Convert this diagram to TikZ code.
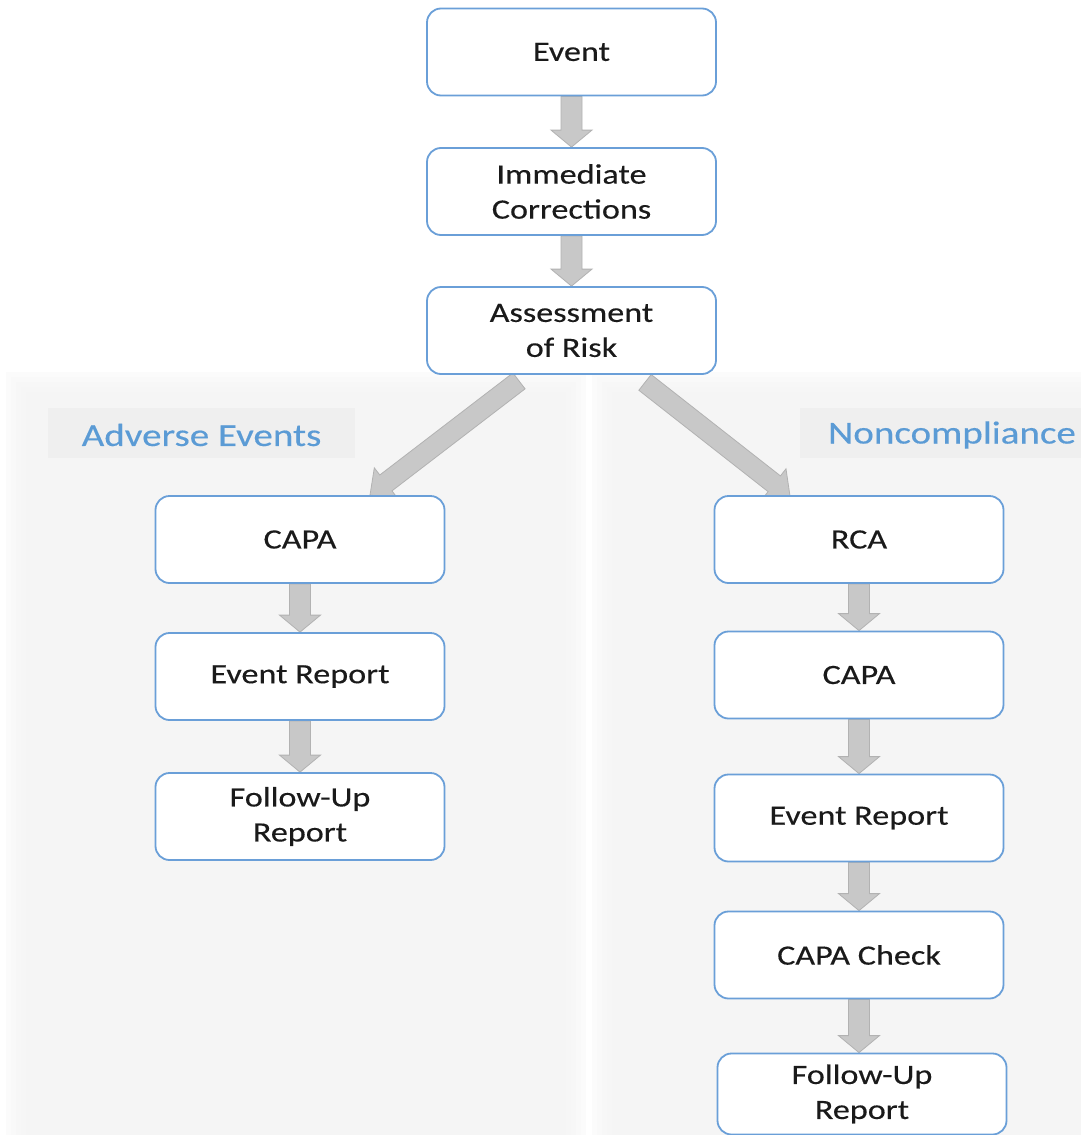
\documentclass[tikz,border=0pt]{standalone}
\usepackage{fontspec}
\setmainfont{Carlito}[FakeStretch=1.22,FakeBold=0.3]
\usetikzlibrary{calc}
\definecolor{boxblue}{HTML}{6A9FD8}
\definecolor{labblue}{HTML}{5B9BD5}
\definecolor{arrowfill}{HTML}{C8C8C8}
\definecolor{arrowedge}{HTML}{B2B2B2}
\definecolor{panelgray}{HTML}{F5F5F5}
\definecolor{labgray}{HTML}{EFEFEF}
\definecolor{txt}{HTML}{1A1A1A}
\pgfdeclarelayer{bg}
\pgfdeclarelayer{mid}
\pgfsetlayers{bg,mid,main}
\tikzset{
  box/.style={draw=boxblue, line width=1.8pt, rounded corners=14pt, fill=white,
    minimum width=289pt, minimum height=87pt, align=center, text=txt,
    inner sep=0pt, font=\fontsize{28}{35}\selectfont},
  lab/.style={text=labblue, inner sep=0pt, font=\fontsize{32}{38}\selectfont},
  barrow/.style n args={3}{draw=arrowedge, fill=arrowfill, line width=0.8pt, line join=miter,
    to path={
      ($(\tikztostart)!#1!90:(\tikztotarget)$) --
      ($(\tikztotarget)!#3!(\tikztostart)!#1!90:(\tikztotarget)$) --
      ($(\tikztotarget)!#3!(\tikztostart)!#2!90:(\tikztotarget)$) --
      (\tikztotarget) --
      ($(\tikztotarget)!#3!(\tikztostart)!#2!-90:(\tikztotarget)$) --
      ($(\tikztotarget)!#3!(\tikztostart)!#1!-90:(\tikztotarget)$) --
      ($(\tikztostart)!#1!-90:(\tikztotarget)$) -- cycle}},
  varrow/.style={barrow={10.5pt}{20.5pt}{17pt}},
  darrow/.style={barrow={10pt}{19pt}{20pt}}
}
\begin{document}
\begin{tikzpicture}[x=1pt,y=-1pt]
\useasboundingbox (0,0) rectangle (1081,1135);

% boxes
\node[box] (ev) at (571.5,52) {Event};
\node[box] (ic) at (571.5,191.5) {Immediate\\Corrections};
\node[box] (ar) at (571.5,330.5) {Assessment\\of Risk};
\node[box] (c1) at (300,539.5) {CAPA};
\node[box] (er1) at (300,676.5) {Event Report};
\node[box] (fu1) at (300,816.5) {Follow-Up\\Report};
\node[box] (rca) at (859,539.5) {RCA};
\node[box] (c2) at (859,675) {CAPA};
\node[box] (er2) at (859,818) {Event Report};
\node[box] (cc) at (859,955) {CAPA Check};
\node[box, minimum height=81pt] (fu2) at (862,1094) {Follow-Up\\Report};

% arrows
\coordinate (d1a) at ($(ar.south)+(-52.5,6)$);
\coordinate (d1b) at ($(c1.north)+(70,0)$);
\coordinate (d2a) at ($(ar.south)+(73.5,7.5)$);
\coordinate (d2b) at ($(rca.north)+(-69,1)$);
\coordinate (fu2t) at (cc.south |- fu2.north);
\begin{pgfonlayer}{mid}
\draw[varrow] (ev.south) to (ic.north);
\draw[varrow] (ic.south) to (ar.north);
\draw[varrow] (c1.south) to (er1.north);
\draw[varrow] (er1.south) to (fu1.north);
\draw[varrow] (rca.south) to (c2.north);
\draw[varrow] (c2.south) to (er2.north);
\draw[varrow] (er2.south) to (cc.north);
\draw[varrow] (cc.south) to (fu2t);
\draw[darrow] (d1a) to (d1b);
\draw[darrow] (d2a) to (d2b);
\end{pgfonlayer}

% background, panels and labels
\begin{pgfonlayer}{bg}
\fill[white] (0,0) rectangle (1081,1135);
\foreach \i in {0,...,7}{
  \fill[panelgray, opacity=0.3] (6+5*\i,372+5*\i) rectangle (586-5*\i,1160);
  \fill[panelgray, opacity=0.3] (592+5*\i,372+5*\i) rectangle (1100,1160);
}
\node[fill=labgray, minimum width=307pt, minimum height=50pt, inner sep=0pt] (lb1) at (201.5,433) {};
\node[fill=labgray, minimum width=300pt, minimum height=50pt, inner sep=0pt] (lb2) at (950,433) {};
\end{pgfonlayer}
\node[lab] (l1) at (201.5,435) {Adverse Events};
\node[lab] (l2) at (952,435) {Noncompliance};
\end{tikzpicture}
\end{document}
